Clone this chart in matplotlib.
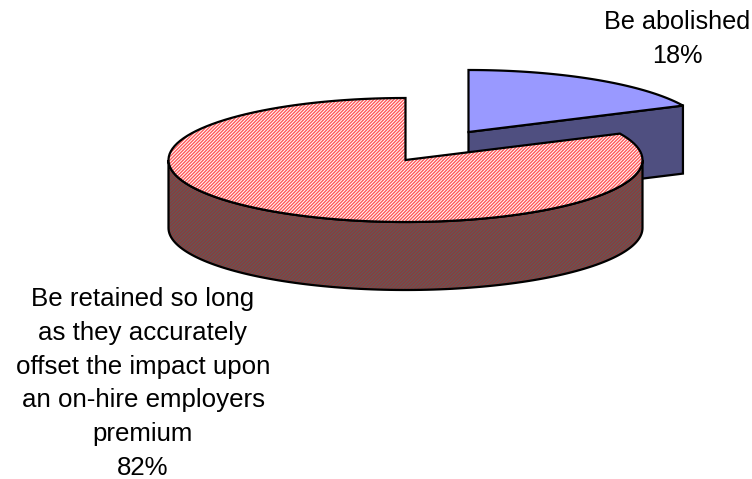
import numpy as np
import matplotlib
matplotlib.use('Agg')
import matplotlib.pyplot as plt
from matplotlib.patches import Polygon

labels = ['Be abolished', 'Be retained so long\nas they accurately\noffset the impact upon\nan on-hire employers\npremium']
values = [18, 82]

plt.rcParams['font.family'] = ['Liberation Sans', 'DejaVu Sans']
plt.rcParams['hatch.linewidth'] = 1.0

fig = plt.figure(figsize=(7.52, 4.79), dpi=100)
ax = fig.add_axes([0, 0, 1, 1])
ax.set_xlim(0, 752)
ax.set_ylim(479, 0)
ax.axis('off')

# medidas del pastel en pixeles
a = 237
b = 62
depth = 68
split = 360 * values[0] / sum(values)


def arc(cx, cy, t0, t1, dy=0):
    t = np.radians(np.linspace(t0, t1, 120))
    return np.column_stack([cx + a * np.sin(t), cy - b * np.cos(t) + dy])


def shape(pts, face, hatch=None, hatch_color=None):
    if hatch:
        ax.add_patch(Polygon(pts, closed=True, facecolor=face, edgecolor=hatch_color, hatch=hatch, lw=0))
        ax.add_patch(Polygon(pts, closed=True, fill=False, edgecolor='black', lw=1.6))
    else:
        ax.add_patch(Polygon(pts, closed=True, facecolor=face, edgecolor='black', lw=1.6))


# porcion azul
cx1, cy1 = 468.5, 132
edge = arc(cx1, cy1, split, split)[0]
shape([(cx1, cy1), edge, edge + [0, depth], (cx1, cy1 + depth)], '#4F4F80')
shape(np.vstack([[(cx1, cy1)], arc(cx1, cy1, 0, split)]), '#9999FF')

# porcion roja
cx2, cy2 = 405.5, 160
side = np.vstack([arc(cx2, cy2, 90, 270), arc(cx2, cy2, 270, 90, depth)])
shape(side, '#5C5C5C', '//////////', '#8C3C3C')
shape(np.vstack([[(cx2, cy2)], arc(cx2, cy2, split, 360)]), '#FFFFFF', '//////////', '#FF5A5A')

# etiquetas
ax.text(677.5, 39, f'{labels[0]}\n{values[0]}%', ha='center', va='center', fontsize=18.2, linespacing=1.53)
ax.text(143, 383.5, f'{labels[1]}\n{values[1]}%', ha='center', va='center', fontsize=18.6, linespacing=1.52)

fig.savefig('out.png', dpi=100)
